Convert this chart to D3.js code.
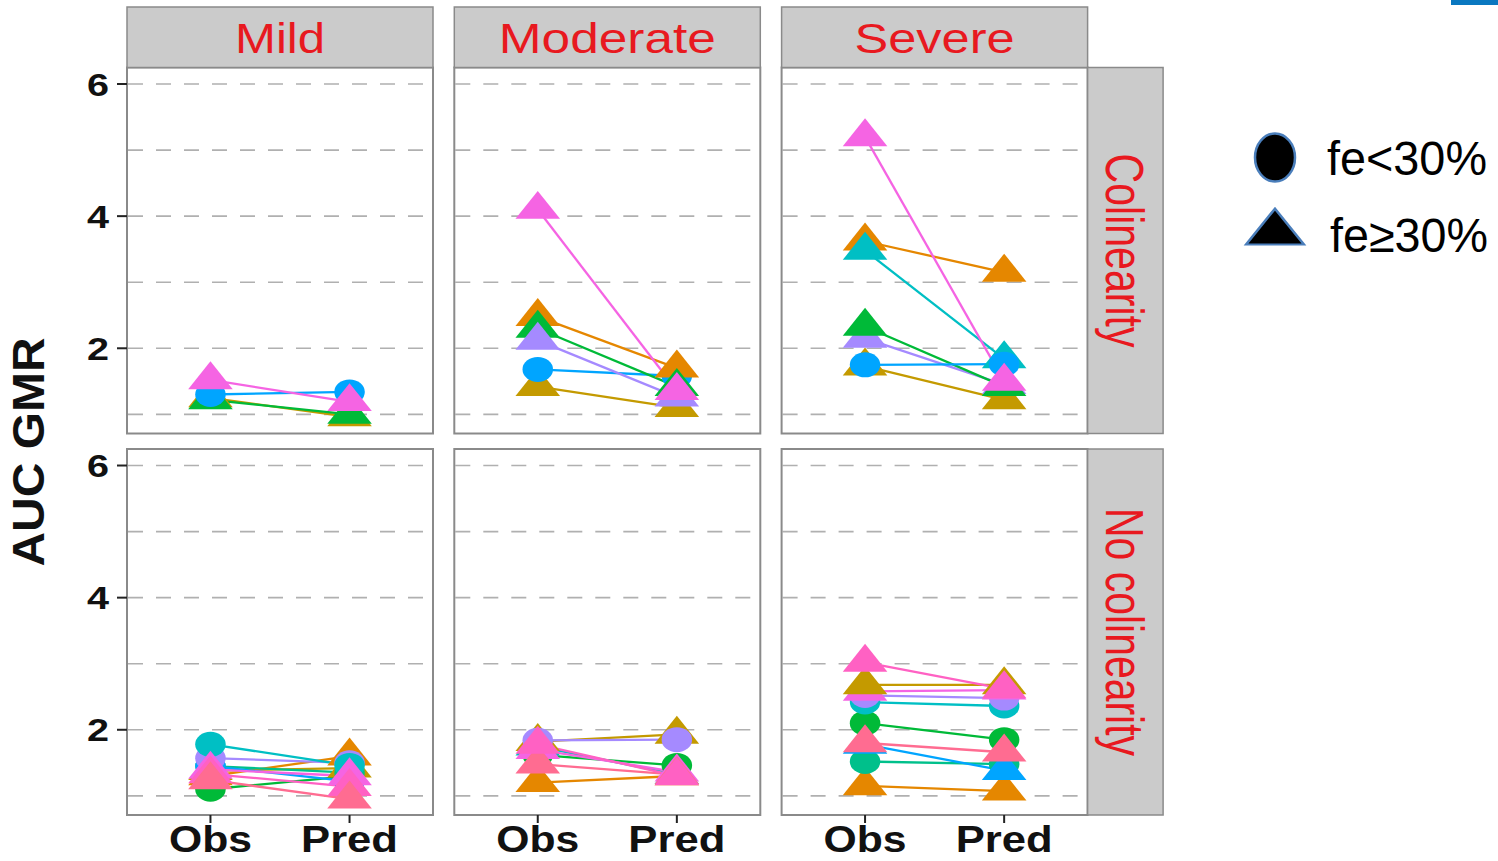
<!DOCTYPE html>
<html>
<head>
<meta charset="utf-8">
<script src="https://cdn.jsdelivr.net/npm/d3@7"></script>
<style>
  html, body { margin: 0; padding: 0; background: #ffffff; }
  svg { display: block; }
</style>
</head>
<body>
<script>
// ---------------- data ----------------
const severities = ["Mild", "Moderate", "Severe"];
const colinearityRows = ["Colinearity", "No colinearity"];
const groups = ["Obs", "Pred"];
const yTicks = [2, 4, 6];
const yGrid = [1, 2, 3, 4, 5, 6];
const feClasses = ["fe<30%", "fe≥30%"];
const drugIds = ["A", "B", "C", "D", "E", "F", "G", "H", "I", "J"];
const drugColors = ["#C49A00", "#E58700", "#00BA38", "#00C08B", "#00BFC4", "#00A5FF", "#A58AFF", "#F564E3", "#FF61C3", "#FF6C91"];

// each row: [drug, fe class, Obs value, Pred value]
const mildCol = [
  ["A", "fe≥30%", 1.25, 0.96],
  ["C", "fe≥30%", 1.22, 1.00],
  ["F", "fe<30%", 1.30, 1.34],
  ["H", "fe≥30%", 1.52, 1.19]
];
const moderateCol = [
  ["A", "fe≥30%", 1.42, 1.10],
  ["F", "fe<30%", 1.68, 1.58],
  ["B", "fe≥30%", 2.48, 1.70],
  ["C", "fe≥30%", 2.30, 1.42],
  ["G", "fe≥30%", 2.12, 1.26],
  ["H", "fe≥30%", 4.10, 1.36]
];
const severeCol = [
  ["A", "fe≥30%", 1.73, 1.22],
  ["G", "fe≥30%", 2.15, 1.45],
  ["C", "fe≥30%", 2.33, 1.42],
  ["B", "fe≥30%", 3.62, 3.15],
  ["E", "fe≥30%", 3.48, 1.84],
  ["F", "fe<30%", 1.75, 1.76],
  ["H", "fe≥30%", 5.20, 1.50]
];
const mildNoCol = [
  ["C", "fe<30%", 1.10, 1.30],
  ["A", "fe≥30%", 1.38, 1.42],
  ["B", "fe≥30%", 1.30, 1.60],
  ["D", "fe<30%", 1.45, 1.35],
  ["F", "fe<30%", 1.45, 1.22],
  ["G", "fe<30%", 1.57, 1.50],
  ["E", "fe<30%", 1.78, 1.46],
  ["H", "fe≥30%", 1.40, 1.30],
  ["I", "fe≥30%", 1.33, 1.14],
  ["J", "fe≥30%", 1.24, 0.95]
];
const moderateNoCol = [
  ["B", "fe≥30%", 1.20, 1.30],
  ["C", "fe<30%", 1.62, 1.46],
  ["E", "fe≥30%", 1.75, 1.32],
  ["A", "fe≥30%", 1.82, 1.93],
  ["G", "fe<30%", 1.84, 1.85],
  ["H", "fe≥30%", 1.70, 1.36],
  ["J", "fe≥30%", 1.48, 1.32],
  ["I", "fe≥30%", 1.78, 1.30]
];
const severeNoCol = [
  ["B", "fe≥30%", 1.15, 1.07],
  ["D", "fe<30%", 1.52, 1.48],
  ["C", "fe<30%", 2.10, 1.85],
  ["E", "fe<30%", 2.42, 2.36],
  ["G", "fe<30%", 2.52, 2.48],
  ["F", "fe≥30%", 1.78, 1.38],
  ["J", "fe≥30%", 1.80, 1.66],
  ["H", "fe≥30%", 2.58, 2.60],
  ["A", "fe≥30%", 2.68, 2.68],
  ["I", "fe≥30%", 3.02, 2.62]
];
const panelData = [
  [mildCol, moderateCol, severeCol],
  [mildNoCol, moderateNoCol, severeNoCol]
];

// ---------------- layout ----------------
const W = 1498, H = 861;
const FONT = "'Liberation Sans', Arial, Helvetica, sans-serif";
const RED = "#E8191F";
const STRIP_FILL = "#CBCBCB";
const BORDER = "#8A8A8A";
const panelW = 306, panelH = 366;
const colX0 = severities.map((_, i) => 127 + i * 327.3);
const rowY0 = [67.5, 449];
const stripTopY = 7, stripTopH = 60.5;
const stripRightW = 75.5;

const color = d3.scaleOrdinal().domain(drugIds).range(drugColors);
const shapeType = d3.scaleOrdinal().domain(feClasses).range([d3.symbolCircle, d3.symbolTriangle]);
const shapeSize = d3.scaleOrdinal().domain(feClasses).range([491, 452]);
const shapeSX = d3.scaleOrdinal().domain(feClasses).range([1.22, 1.38]);

const svg = d3.select("body").append("svg")
  .attr("width", W).attr("height", H)
  .style("font-family", FONT);

colinearityRows.forEach((rowName, r) => {
  const y0 = rowY0[r];
  const y = d3.scaleLinear().domain([0.71, 6.25]).range([y0 + panelH, y0]);

  severities.forEach((sev, c) => {
    const x0 = colX0[c];
    const x = d3.scalePoint().domain(groups).range([x0, x0 + panelW]).padding(0.6);
    const g = svg.append("g");

    g.append("rect").attr("x", x0).attr("y", y0).attr("width", panelW).attr("height", panelH)
      .attr("fill", "#ffffff");

    g.selectAll("line.grid").data(yGrid).join("line")
      .attr("class", "grid")
      .attr("x1", x0 + 1).attr("x2", x0 + panelW - 1)
      .attr("y1", d => y(d)).attr("y2", d => y(d))
      .attr("stroke", "#B0B0B0").attr("stroke-width", 1.6)
      .attr("stroke-dasharray", "15,13");

    const rows = panelData[r][c];

    g.selectAll("line.pair").data(rows).join("line")
      .attr("class", "pair")
      .attr("x1", x(groups[0])).attr("x2", x(groups[1]))
      .attr("y1", d => y(d[2])).attr("y2", d => y(d[3]))
      .attr("stroke", d => color(d[0])).attr("stroke-width", 2.3);

    const pts = [];
    rows.forEach(d => {
      pts.push({ id: d[0], fe: d[1], g: groups[0], v: d[2] });
      pts.push({ id: d[0], fe: d[1], g: groups[1], v: d[3] });
    });
    g.selectAll("path.pt").data(pts).join("path")
      .attr("class", "pt")
      .attr("d", d => d3.symbol().type(shapeType(d.fe)).size(shapeSize(d.fe))())
      .attr("transform", d => `translate(${x(d.g)},${y(d.v)}) scale(${shapeSX(d.fe)},1)`)
      .attr("fill", d => color(d.id));

    g.append("rect").attr("x", x0).attr("y", y0).attr("width", panelW).attr("height", panelH)
      .attr("fill", "none").attr("stroke", BORDER).attr("stroke-width", 2);

    if (r === 0) {
      g.append("rect").attr("x", x0).attr("y", stripTopY).attr("width", panelW).attr("height", stripTopH)
        .attr("fill", STRIP_FILL).attr("stroke", BORDER).attr("stroke-width", 1.5);
      const lens = { "Mild": 90, "Moderate": 217, "Severe": 160 };
      g.append("text").attr("x", x0 + panelW / 2).attr("y", 53)
        .attr("text-anchor", "middle").attr("font-size", 42).attr("fill", RED)
        .attr("textLength", lens[sev]).attr("lengthAdjust", "spacingAndGlyphs")
        .text(sev);
    }

    if (c === 0) {
      g.selectAll("line.ytick").data(yTicks).join("line")
        .attr("class", "ytick")
        .attr("x1", x0 - 10).attr("x2", x0)
        .attr("y1", d => y(d)).attr("y2", d => y(d))
        .attr("stroke", "#222").attr("stroke-width", 2);
      g.selectAll("text.ylab").data(yTicks).join("text")
        .attr("class", "ylab")
        .attr("x", x0 - 18).attr("y", d => y(d) + 11.5)
        .attr("text-anchor", "end").attr("font-size", 32).attr("font-weight", "bold")
        .attr("fill", "#111")
        .attr("textLength", 22).attr("lengthAdjust", "spacingAndGlyphs")
        .text(d => d);
    }

    if (r === 1) {
      g.selectAll("line.xtick").data(groups).join("line")
        .attr("class", "xtick")
        .attr("x1", d => x(d)).attr("x2", d => x(d))
        .attr("y1", y0 + panelH).attr("y2", y0 + panelH + 8)
        .attr("stroke", "#222").attr("stroke-width", 2);
      const xl = { "Obs": 83, "Pred": 97 };
      g.selectAll("text.xlab").data(groups).join("text")
        .attr("class", "xlab")
        .attr("x", d => x(d)).attr("y", 852)
        .attr("text-anchor", "middle").attr("font-size", 36).attr("font-weight", "bold")
        .attr("fill", "#111")
        .attr("textLength", d => xl[d]).attr("lengthAdjust", "spacingAndGlyphs")
        .text(d => d);
    }
  });

  const sx = colX0[2] + panelW;
  svg.append("rect").attr("x", sx).attr("y", y0).attr("width", stripRightW).attr("height", panelH)
    .attr("fill", STRIP_FILL).attr("stroke", BORDER).attr("stroke-width", 1.5);
  const rl = { "Colinearity": 194, "No colinearity": 248 };
  svg.append("text")
    .attr("transform", `translate(${sx + 18},${y0 + panelH / 2}) scale(1.3,1) rotate(90)`)
    .attr("text-anchor", "middle").attr("font-size", 41).attr("fill", RED)
    .attr("textLength", rl[rowName]).attr("lengthAdjust", "spacingAndGlyphs")
    .text(rowName);
});

svg.append("text")
  .attr("transform", `translate(44,452) scale(1.2,1) rotate(-90)`)
  .attr("text-anchor", "middle").attr("font-size", 37).attr("font-weight", "bold")
  .attr("fill", "#111")
  .attr("textLength", 229).attr("lengthAdjust", "spacingAndGlyphs")
  .text("AUC GMR");

const legend = svg.append("g");
legend.append("ellipse").attr("cx", 1275).attr("cy", 157.5).attr("rx", 20).attr("ry", 24)
  .attr("fill", "#000").attr("stroke", "#4A7EBB").attr("stroke-width", 2.5);
legend.append("path")
  .attr("d", d3.symbol().type(d3.symbolTriangle).size(740)())
  .attr("transform", "translate(1275,232.5) scale(1.4,1)")
  .attr("fill", "#000").attr("stroke", "#4A7EBB").attr("stroke-width", 2);
legend.append("text").attr("x", 1327).attr("y", 175).attr("font-size", 48).attr("fill", "#000")
  .attr("textLength", 160).attr("lengthAdjust", "spacingAndGlyphs").text(feClasses[0]);
legend.append("text").attr("x", 1330).attr("y", 252).attr("font-size", 48).attr("fill", "#000")
  .attr("textLength", 158).attr("lengthAdjust", "spacingAndGlyphs").text(feClasses[1]);

svg.append("rect").attr("x", 1451).attr("y", 0).attr("width", 47).attr("height", 5).attr("fill", "#0A78C0");
</script>
</body>
</html>
